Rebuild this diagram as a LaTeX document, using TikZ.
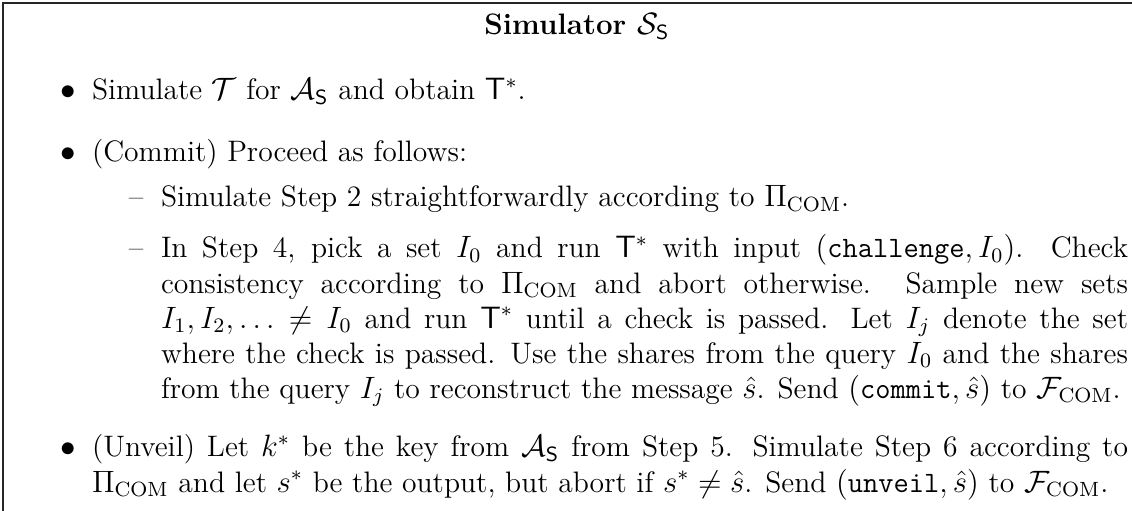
\documentclass[tikz,border=0pt]{standalone}
\usepackage{amsmath,amssymb}
\newcommand\bodyfont{\fontsize{11.5pt}{13.6pt}\selectfont
  \hyphenpenalty=10000 \exhyphenpenalty=10000 \tolerance=9999 }
\begin{document}
\begin{tikzpicture}[x=0.3885pt,y=-0.3885pt,
  txt/.style={inner sep=0pt,outer sep=0pt,anchor=base west,align=justify,
    font=\bodyfont},
  lbl/.style={inner sep=0pt,outer sep=0pt,anchor=base,font=\bodyfont},
  frame/.style={line width=0.4pt,draw=black!85}]
\useasboundingbox (0,0) rectangle (1132,511);
\begin{scope}
\clip (0,0) rectangle (1132,511);
\draw[frame] (3,560) -- (3,3) -- (1180,3);
\end{scope}

% heading
\node[inner sep=0pt,anchor=base,font={\bodyfont\bfseries}]
  (title) at (577,35) {Simulator $\mathcal{S}_{\mathsf{S}}$};

% first-level items
\node[lbl] (b1) at (68,100) {$\bullet$};
\node[txt,text width=402.5pt] (i1) at (92,100)
  {Simulate $\mathcal{T}$ for $\mathcal{A}_{\mathsf{S}}$ and obtain $\mathsf{T}^*$.};

\node[lbl] (b2) at (68,162) {$\bullet$};
\node[txt,text width=402.5pt] (i2) at (92,162)
  {(Commit) Proceed as follows:};

% second-level items
\node[lbl] (d1) at (136,207) {\textendash};
\node[txt,text width=375.7pt] (s1) at (161,207)
  {Simulate Step 2 straightforwardly according to $\Pi_{\mathrm{COM}}$.};

\node[lbl] (d2) at (136,258) {\textendash};
\node[txt,text width=375.7pt] (s2) at (161,258)
  {In Step 4, pick a set $I_0$ and run $\mathsf{T}^*$ with input
   $(\texttt{challenge}, I_0)$. Check consistency according to
   $\Pi_{\mathrm{COM}}$ and abort otherwise. Sample new sets
   $I_1, I_2, \ldots \neq I_0$ and run $\mathsf{T}^*$ until a check is
   passed. Let $I_j$ denote the set where the check is passed. Use the
   shares from the query $I_0$ and the shares from the query $I_j$ to
   reconstruct the message $\hat{s}$. Send $(\texttt{commit}, \hat{s})$
   to $\mathcal{F}_{\mathrm{COM}}$.};

\node[lbl] (b3) at (68,457) {$\bullet$};
\node[txt,text width=402.5pt] (i3) at (92,457)
  {(Unveil) Let $k^*$ be the key from $\mathcal{A}_{\mathsf{S}}$ from
   Step 5. Simulate Step 6 according to $\Pi_{\mathrm{COM}}$ and let
   $s^*$ be the output, but abort if $s^* \neq \hat{s}$. Send
   $(\texttt{unveil}, \hat{s})$ to $\mathcal{F}_{\mathrm{COM}}$.};
\end{tikzpicture}
\end{document}
